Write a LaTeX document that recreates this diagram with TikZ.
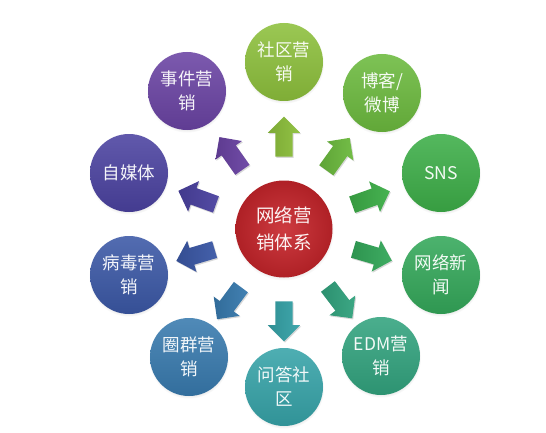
\documentclass[tikz,border=0pt]{standalone}
\usepackage{fontspec}
\setmainfont{Noto Sans CJK SC}
\usetikzlibrary{shapes.arrows,shadows,calc}
\definecolor{cA}{HTML}{8DC03C}
\definecolor{cB}{HTML}{6CBA3E}
\definecolor{cC}{HTML}{3DAE48}
\definecolor{cD}{HTML}{34A85A}
\definecolor{cE}{HTML}{32A37E}
\definecolor{cF}{HTML}{36A3A8}
\definecolor{cG}{HTML}{387AAE}
\definecolor{cH}{HTML}{3B58A6}
\definecolor{cI}{HTML}{4B42A0}
\definecolor{cJ}{HTML}{6A43A3}
\definecolor{cR}{HTML}{C7252B}
\begin{document}
\begin{tikzpicture}[x=1pt,y=1pt,
  bubble/.style={circle, minimum size=78pt, inner sep=0pt, align=center,
    text=white!94!#1, font=\fontsize{17.5}{24}\selectfont,
    top color=#1!88!white, bottom color=#1!90!black,
    circular drop shadow={shadow xshift=0pt, shadow yshift=-1.5pt, shadow scale=1.03, opacity=0.25}},
  hub/.style={circle, minimum size=97pt, inner sep=0pt, align=center,
    text=white!94!cR, font=\fontsize{18.5}{27}\selectfont,
    inner color=cR!90!white, outer color=cR!88!black,
    circular drop shadow={shadow xshift=0pt, shadow yshift=-1.5pt, shadow scale=1.03, opacity=0.25}},
  arrowbox/.style={single arrow, draw=none, inner sep=8.5pt, minimum height=40pt,
    single arrow head extend=7.5pt, single arrow head indent=0pt,
    left color=#1!88!black, right color=#1!95!white,
    drop shadow={shadow xshift=1pt, shadow yshift=-1.2pt, opacity=0.3}}
]
\useasboundingbox (0,0) rectangle (546,432);
\fill[white] (0,0) rectangle (546,432);

\node[hub] (c) at (284,203) {网络营\\销体系};

\node[bubble=cA] (o1) at (284,370) {社区营\\销};
\node[bubble=cB] (o2) at (382,339) {博客/\\微博};
\node[bubble=cC] (o3) at (441,259) {SNS};
\node[bubble=cD] (o4) at (441,157) {网络新\\闻};
\node[bubble=cE] (o5) at (381,76) {EDM营\\销};
\node[bubble=cF] (o6) at (284,45) {问答社\\区};
\node[bubble=cG] (o7) at (189,75) {圈群营\\销};
\node[bubble=cH] (o8) at (129,157) {病毒营\\销};
\node[bubble=cI] (o9) at (129,259) {自媒体};
\node[bubble=cJ] (o10) at (187,341) {事件营\\销};

\foreach \o/\col in {o1/cA,o2/cB,o3/cC,o4/cD,o5/cE,o6/cF,o7/cG,o8/cH,o9/cI,o10/cJ}{
  \path let \p1=($(\o)-(c)$), \n1={atan2(\y1,\x1)} in
    node[arrowbox=\col, rotate=\n1] (a-\o) at ($(c)!88pt!(\o)$) {};
}
\end{tikzpicture}
\end{document}
